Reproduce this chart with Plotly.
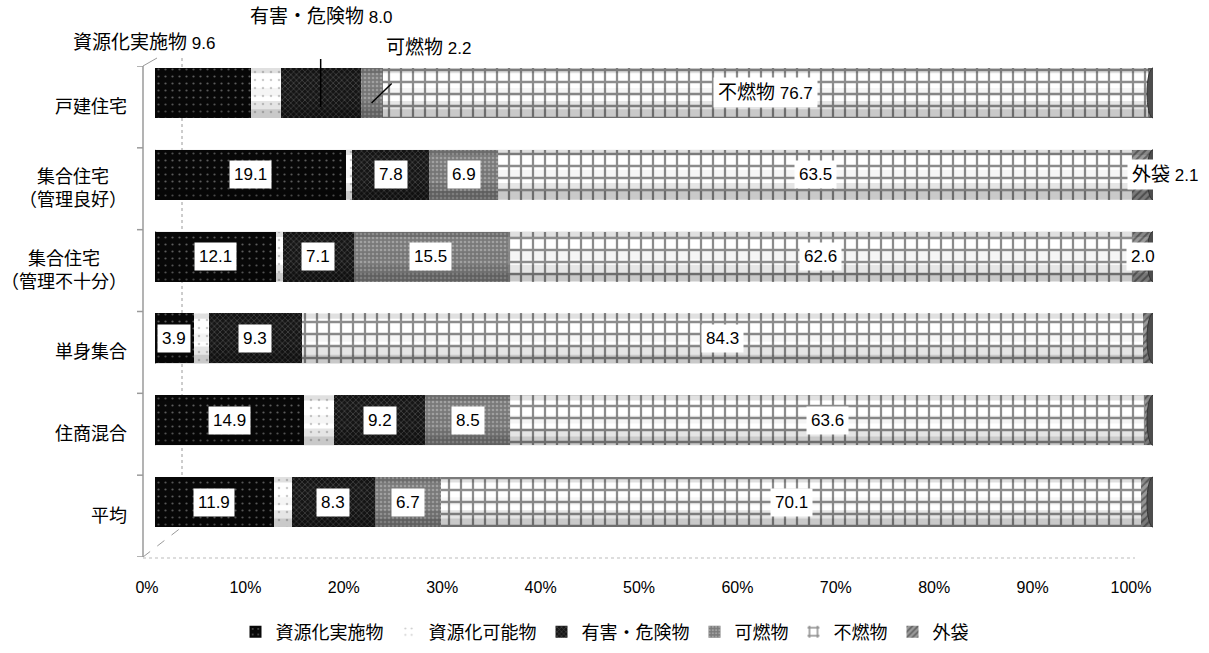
import plotly.graph_objects as go

# ---- data -------------------------------------------------------------
categories = ["戸建住宅", "集合住宅（管理良好）", "集合住宅（管理不十分）",
              "単身集合", "住商混合", "平均"]
category_labels = ["戸建住宅", "集合住宅<br>（管理良好）", "集合住宅<br>（管理不十分）",
                   "単身集合", "住商混合", "平均"]

series_names = ["資源化実施物", "資源化可能物", "有害・危険物", "可燃物", "不燃物", "外袋"]
shigen_jisshi = [9.6, 19.1, 12.1, 3.9, 14.9, 11.9]
shigen_kanou = [3.0, 0.6, 0.7, 1.5, 3.0, 1.8]
yugai_kiken = [8.0, 7.8, 7.1, 9.3, 9.2, 8.3]
kanen = [2.2, 6.9, 15.5, 0.0, 8.5, 6.7]
funen = [76.7, 63.5, 62.6, 84.3, 63.6, 70.1]
sotobukuro = [0.5, 2.1, 2.0, 1.0, 0.8, 1.2]

tick_values = [0, 10, 20, 30, 40, 50, 60, 70, 80, 90, 100]
tick_labels = ["0%", "10%", "20%", "30%", "40%", "50%", "60%", "70%", "80%", "90%", "100%"]

series_values = [shigen_jisshi, shigen_kanou, yugai_kiken, kanen, funen, sotobukuro]

# ---- styling ----------------------------------------------------------
W, H = 1209, 653
FONT = "Liberation Sans, Arial, Noto Sans CJK JP, sans-serif"
NUM = 17   # size of figures
JP = 19    # size of Japanese words


def fx(p):
    return p / W


def fy(p):
    return 1 - p / H


def jp(s):
    return f"<span style='font-size:{JP}px'>{s}</span>"


patterns = [
    dict(shape=".", bgcolor="#080808", fgcolor="#b0b0b0", size=7, solidity=0.08),
    dict(shape=".", bgcolor="#ffffff", fgcolor="#9a9a9a", size=8, solidity=0.08),
    dict(shape="x", bgcolor="#161616", fgcolor="#7a7a7a", size=4, solidity=0.35),
    dict(shape=".", bgcolor="#7a7a7a", fgcolor="#c8c8c8", size=4, solidity=0.35),
    dict(shape="+", bgcolor="#ffffff", fgcolor="#1a1a1a", size=12, solidity=0.34),
    dict(shape="/", bgcolor="#9a9a9a", fgcolor="#2a2a2a", size=5, solidity=0.4),
]

fig = go.Figure()

for name, vals, pat in zip(series_names, series_values, patterns):
    fig.add_trace(go.Bar(
        y=categories, x=vals, orientation="h", name=name,
        marker=dict(color=pat["bgcolor"], pattern=pat, line=dict(width=0)),
        xaxis="x", yaxis="y", hoverinfo="skip",
    ))

# helper trace so the tick axis and the label axis are laid out
fig.add_trace(go.Scatter(x=[0, 100], y=[0, 0], xaxis="x2", yaxis="y2", mode="markers",
                         marker=dict(opacity=0), showlegend=False, hoverinfo="skip"))

# ---- cylinder shading and end caps --------------------------------------
HALF = 0.305
shapes = []
for i, cat in enumerate(categories):
    total = sum(v[i] for v in series_values)
    # darker bands along the lower and upper edges of each bar
    for y0, y1, a in ((i + 0.10, i + HALF, 0.10), (i + 0.20, i + HALF, 0.12),
                      (i - HALF, i - 0.24, 0.12), (i - 0.06, i + 0.04, 0.04)):
        shapes.append(dict(type="rect", xref="x", yref="y", x0=0, x1=total, y0=y0, y1=y1,
                           fillcolor=f"rgba(0,0,0,{a})", line=dict(width=0)))
    # rounded starting end and elliptical far end
    shapes.append(dict(type="circle", xref="x", yref="y", x0=-0.8, x1=0.8,
                       y0=i - HALF, y1=i + HALF, fillcolor="#080808", line=dict(width=0),
                       layer="below"))
    shapes.append(dict(type="circle", xref="x", yref="y", x0=total - 0.6, x1=total + 0.6,
                       y0=i - HALF, y1=i + HALF, fillcolor="#4d4d4d",
                       line=dict(color="#333333", width=1)))

# ---- value labels -----------------------------------------------------
annotations = []
box = dict(bgcolor="white", borderpad=4, font=dict(family=FONT, size=NUM, color="black"),
           showarrow=False, xref="x", yref="y")
plain_font = dict(family=FONT, size=NUM, color="black")

for i, cat in enumerate(categories):
    starts = []
    acc = 0.0
    for vals in series_values:
        starts.append(acc)
        acc += vals[i]
    mids = [s + v[i] / 2 for s, v in zip(starts, series_values)]
    if i == 0:
        # first row: names shown with the values
        annotations.append(dict(box, x=mids[4], y=cat,
                                text=f"{jp(series_names[4])} {funen[i]:.1f}"))
        annotations.append(dict(x=mids[0], y=cat, xref="x", yref="y",
                                text=f"{jp(series_names[0])} {shigen_jisshi[i]:.1f}",
                                showarrow=False, xshift=-59, yshift=50, font=plain_font))
        annotations.append(dict(x=mids[2], y=cat, xref="x", yref="y",
                                text=f"{jp(series_names[2])} {yugai_kiken[i]:.1f}",
                                showarrow=True, arrowhead=0, arrowwidth=1.5, arrowcolor="black",
                                ax=0, ay=-90, yshift=-14, startstandoff=30, font=plain_font))
        annotations.append(dict(x=mids[3], y=cat, xref="x", yref="y",
                                text=f"{jp(series_names[3])} {kanen[i]:.1f}",
                                showarrow=True, arrowhead=0, arrowwidth=1.5, arrowcolor="black",
                                ax=57, ay=-55, yshift=-10, startstandoff=34, font=plain_font))
        continue
    for k in (0, 2, 3, 4):
        v = series_values[k][i]
        if v > 0:
            annotations.append(dict(box, x=mids[k], y=cat, text=f"{v:.1f}"))
    v = sotobukuro[i]
    if i == 1:
        annotations.append(dict(box, x=starts[5], y=cat, xanchor="left", xshift=-5,
                                text=f"{jp(series_names[5])} {v:.1f}"))
    elif i == 2:
        annotations.append(dict(box, x=mids[5], y=cat, text=f"{v:.1f}"))

# category labels (sit on the front wall, slightly below the bars)
for i, lab in enumerate(category_labels):
    annotations.append(dict(x=fx(129), xref="paper", xanchor="right", y=i, yref="y2",
                            text=lab, align="center", showarrow=False,
                            font=dict(family=FONT, size=18, color="black")))

# ---- wall / floor frame -----------------------------------------------
wall = "#9a9a9a"
shapes += [
    dict(type="line", xref="paper", yref="y2", x0=fx(143), x1=fx(143), y0=-0.5, y1=5.5,
         line=dict(color=wall, width=1.5)),
    dict(type="line", xref="paper", yref="paper", x0=fx(143), y0=fy(66), x1=fx(157), y1=fy(58),
         line=dict(color=wall, width=1)),
    dict(type="line", xref="paper", yref="paper", x0=fx(143), y0=fy(557), x1=fx(182), y1=fy(527),
         line=dict(color=wall, width=1, dash="dash")),
    dict(type="line", xref="paper", yref="paper", x0=fx(182), y0=fy(58), x1=fx(182), y1=fy(527),
         line=dict(color=wall, width=1, dash="dot"), layer="below"),
    dict(type="line", xref="paper", yref="paper", x0=fx(143), y0=fy(558), x1=fx(1135), y1=fy(558),
         line=dict(color="#bbbbbb", width=1, dash="dot")),
]
for k in range(7):
    shapes.append(dict(type="line", xref="paper", yref="y2", x0=fx(137), x1=fx(143),
                       y0=k - 0.5, y1=k - 0.5, line=dict(color=wall, width=1.5)))

fig.update_layout(
    width=W, height=H,
    margin=dict(l=0, r=0, t=0, b=0, autoexpand=False),
    paper_bgcolor="white", plot_bgcolor="rgba(0,0,0,0)",
    barmode="stack", bargap=0.39,
    font=dict(family=FONT, size=NUM, color="black"),
    xaxis=dict(domain=[fx(155), fx(1153)], range=[0, 100], visible=False, fixedrange=True),
    yaxis=dict(domain=[fy(543), fy(52)], type="category", categoryorder="array",
               categoryarray=categories, range=[5.5, -0.5], visible=False, fixedrange=True),
    yaxis2=dict(domain=[fy(557), fy(66)], range=[5.5, -0.5], visible=False, anchor="x",
                fixedrange=True),
    xaxis2=dict(domain=[fx(147), fx(1131)], range=[0, 100], anchor="free", position=fy(576),
                tickvals=tick_values, ticktext=tick_labels, showgrid=False, zeroline=False,
                showline=False, ticks="", tickfont=dict(family=FONT, size=16, color="black"),
                fixedrange=True),
    legend=dict(orientation="h", x=0.5, xanchor="center", y=fy(632), yanchor="middle",
                traceorder="normal", font=dict(family=FONT, size=18, color="black"),
                itemwidth=30, bgcolor="rgba(0,0,0,0)"),
    annotations=annotations,
    shapes=shapes,
)

fig.write_html("out.html")
